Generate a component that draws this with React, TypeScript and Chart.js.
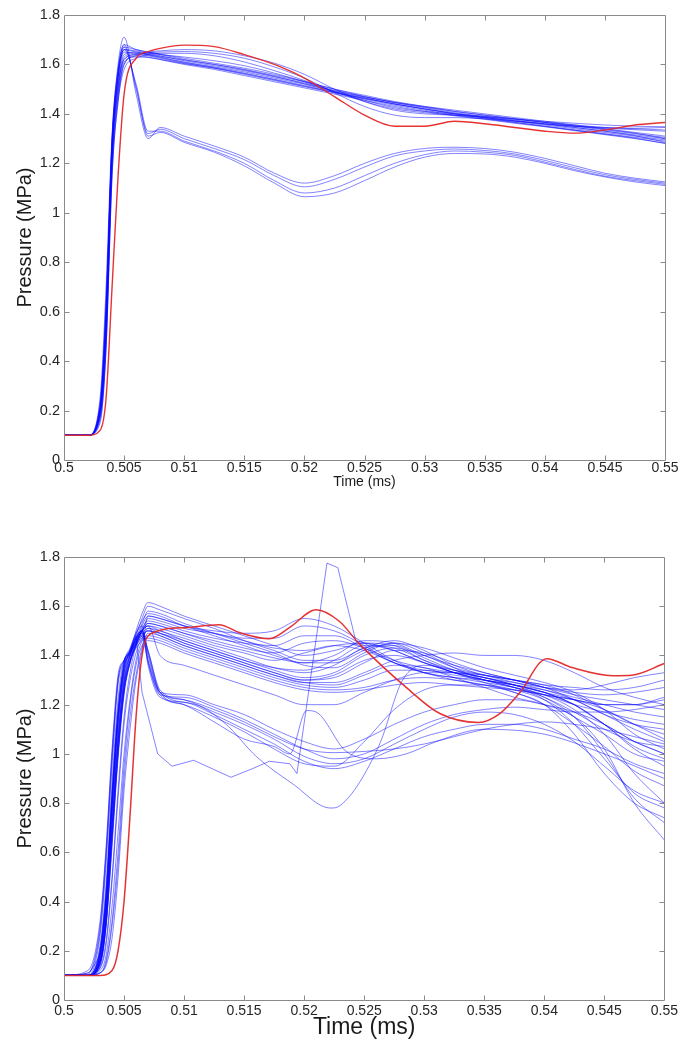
import React, { useEffect, useRef } from "react";
import { Chart, registerables } from "chart.js";
Chart.register(...registerables);

// ---------- axes ----------
const xTickValues = [0.5, 0.505, 0.51, 0.515, 0.52, 0.525, 0.53, 0.535, 0.54, 0.545, 0.55];
const xTickLabels = ["0.5", "0.505", "0.51", "0.515", "0.52", "0.525", "0.53", "0.535", "0.54", "0.545", "0.55"];
const yTickValues = [0, 0.2, 0.4, 0.6, 0.8, 1, 1.2, 1.4, 1.6, 1.8];
const yTickLabels = ["0", "0.2", "0.4", "0.6", "0.8", "1", "1.2", "1.4", "1.6", "1.8"];

// ---------- top chart ----------
const timeTop = [0.5, 0.502, 0.503, 0.5035, 0.504, 0.5045, 0.505, 0.506, 0.507, 0.508, 0.51, 0.5125, 0.515, 0.5175, 0.52, 0.5225, 0.525, 0.5275, 0.53, 0.5325, 0.535, 0.5375, 0.54, 0.5425, 0.545, 0.5475, 0.55];

const top01 = [0.1, 0.1, 0.2, 0.55, 1.25, 1.52, 1.64, 1.65, 1.64, 1.63, 1.61, 1.59, 1.57, 1.545, 1.52, 1.49, 1.465, 1.44, 1.42, 1.4, 1.385, 1.37, 1.355, 1.34, 1.325, 1.31, 1.295];
const top02 = [0.1, 0.1, 0.22, 0.6, 1.28, 1.55, 1.66, 1.655, 1.645, 1.635, 1.615, 1.595, 1.575, 1.55, 1.525, 1.495, 1.47, 1.445, 1.425, 1.405, 1.39, 1.375, 1.36, 1.345, 1.33, 1.315, 1.3];
const top03 = [0.1, 0.1, 0.18, 0.5, 1.22, 1.5, 1.62, 1.64, 1.635, 1.625, 1.605, 1.585, 1.56, 1.535, 1.51, 1.485, 1.46, 1.435, 1.415, 1.395, 1.38, 1.365, 1.35, 1.335, 1.32, 1.305, 1.29];
const top04 = [0.1, 0.1, 0.25, 0.7, 1.32, 1.58, 1.68, 1.66, 1.65, 1.64, 1.62, 1.6, 1.58, 1.555, 1.53, 1.5, 1.475, 1.45, 1.43, 1.41, 1.395, 1.38, 1.365, 1.35, 1.335, 1.32, 1.305];
const top05 = [0.1, 0.1, 0.2, 0.58, 1.26, 1.54, 1.65, 1.645, 1.638, 1.628, 1.608, 1.588, 1.565, 1.54, 1.515, 1.487, 1.462, 1.44, 1.42, 1.402, 1.386, 1.372, 1.358, 1.345, 1.33, 1.312, 1.285];
const top06 = [0.1, 0.1, 0.16, 0.45, 1.15, 1.45, 1.6, 1.635, 1.63, 1.62, 1.6, 1.58, 1.555, 1.53, 1.505, 1.48, 1.455, 1.43, 1.41, 1.392, 1.378, 1.362, 1.348, 1.332, 1.316, 1.3, 1.282];
const top07 = [0.1, 0.1, 0.21, 0.62, 1.29, 1.56, 1.67, 1.66, 1.65, 1.642, 1.625, 1.605, 1.585, 1.56, 1.532, 1.5, 1.47, 1.447, 1.43, 1.415, 1.4, 1.385, 1.37, 1.355, 1.34, 1.325, 1.31];
const top08 = [0.1, 0.1, 0.18, 0.5, 1.2, 1.48, 1.6, 1.635, 1.65, 1.655, 1.66, 1.655, 1.635, 1.605, 1.56, 1.5, 1.45, 1.415, 1.4, 1.395, 1.388, 1.378, 1.366, 1.355, 1.345, 1.34, 1.335];
const top09 = [0.1, 0.1, 0.2, 0.55, 1.24, 1.52, 1.62, 1.64, 1.648, 1.65, 1.652, 1.645, 1.625, 1.59, 1.545, 1.485, 1.43, 1.395, 1.385, 1.385, 1.38, 1.37, 1.36, 1.35, 1.342, 1.336, 1.33];
const top10 = [0.1, 0.1, 0.15, 0.45, 1.15, 1.45, 1.58, 1.625, 1.64, 1.645, 1.645, 1.635, 1.61, 1.575, 1.535, 1.49, 1.45, 1.42, 1.405, 1.395, 1.385, 1.372, 1.36, 1.35, 1.345, 1.342, 1.345];
const top11 = [0.1, 0.1, 0.19, 0.52, 1.22, 1.5, 1.63, 1.645, 1.645, 1.64, 1.63, 1.615, 1.595, 1.565, 1.53, 1.49, 1.455, 1.425, 1.41, 1.4, 1.39, 1.38, 1.37, 1.362, 1.355, 1.35, 1.348];
const top12 = [0.1, 0.1, 0.23, 0.65, 1.3, 1.56, 1.66, 1.65, 1.64, 1.633, 1.618, 1.6, 1.578, 1.552, 1.522, 1.493, 1.468, 1.446, 1.427, 1.41, 1.395, 1.38, 1.366, 1.352, 1.338, 1.322, 1.3];
const top13 = [0.1, 0.1, 0.17, 0.48, 1.18, 1.47, 1.61, 1.63, 1.628, 1.62, 1.603, 1.585, 1.563, 1.538, 1.512, 1.487, 1.463, 1.44, 1.42, 1.4, 1.383, 1.366, 1.35, 1.334, 1.318, 1.302, 1.28];
const topLow1 = [0.1, 0.1, 0.2, 0.6, 1.3, 1.6, 1.71, 1.48, 1.3, 1.345, 1.31, 1.27, 1.225, 1.16, 1.12, 1.15, 1.2, 1.24, 1.26, 1.265, 1.26, 1.245, 1.22, 1.19, 1.16, 1.14, 1.125];
const topLow2 = [0.1, 0.1, 0.22, 0.62, 1.28, 1.58, 1.68, 1.5, 1.32, 1.338, 1.3, 1.26, 1.215, 1.15, 1.105, 1.135, 1.185, 1.23, 1.25, 1.258, 1.252, 1.238, 1.212, 1.182, 1.154, 1.135, 1.12];
const topLow3 = [0.1, 0.1, 0.18, 0.55, 1.24, 1.55, 1.66, 1.52, 1.33, 1.33, 1.29, 1.25, 1.2, 1.13, 1.08, 1.1, 1.15, 1.2, 1.235, 1.25, 1.245, 1.232, 1.205, 1.175, 1.148, 1.13, 1.115];
const topLow4 = [0.1, 0.1, 0.2, 0.58, 1.26, 1.57, 1.67, 1.51, 1.31, 1.325, 1.285, 1.245, 1.19, 1.12, 1.065, 1.08, 1.13, 1.185, 1.225, 1.24, 1.238, 1.225, 1.2, 1.17, 1.145, 1.125, 1.11];
const topRed = [0.1, 0.1, 0.12, 0.25, 0.7, 1.15, 1.48, 1.625, 1.652, 1.665, 1.678, 1.672, 1.64, 1.6, 1.545, 1.47, 1.395, 1.35, 1.35, 1.37, 1.36, 1.345, 1.33, 1.322, 1.335, 1.355, 1.365];

const topBlue = [top01, top02, top03, top04, top05, top06, top07, top08, top09, top10, top11, top12, top13, topLow1, topLow2, topLow3, topLow4];

// ---------- bottom chart ----------
const timeBot = [0.5, 0.502, 0.503, 0.5035, 0.504, 0.5045, 0.505, 0.5055, 0.506, 0.5065, 0.507, 0.508, 0.51, 0.5125, 0.515, 0.5175, 0.52, 0.5225, 0.525, 0.5275, 0.53, 0.5325, 0.535, 0.5375, 0.54, 0.5425, 0.545, 0.5475, 0.55];

const botA01 = [0.1, 0.1, 0.2, 0.42, 0.82, 1.15, 1.34, 1.42, 1.5, 1.57, 1.615, 1.6, 1.56, 1.52, 1.48, 1.44, 1.4, 1.42, 1.45, 1.44, 1.38, 1.34, 1.31, 1.29, 1.27, 1.26, 1.28, 1.31, 1.33];
const botA02 = [0.1, 0.1, 0.17, 0.36, 0.74, 1.08, 1.3, 1.4, 1.48, 1.55, 1.6, 1.585, 1.55, 1.51, 1.46, 1.42, 1.38, 1.38, 1.43, 1.46, 1.42, 1.36, 1.32, 1.3, 1.28, 1.27, 1.26, 1.27, 1.3];
const botA03 = [0.1, 0.11, 0.3, 0.6, 1.0, 1.3, 1.38, 1.42, 1.47, 1.53, 1.58, 1.57, 1.53, 1.49, 1.45, 1.41, 1.36, 1.35, 1.41, 1.45, 1.41, 1.35, 1.3, 1.27, 1.24, 1.22, 1.2, 1.2, 1.22];
const botA04 = [0.1, 0.1, 0.11, 0.14, 0.25, 0.5, 0.85, 1.1, 1.3, 1.42, 1.56, 1.55, 1.52, 1.5, 1.49, 1.5, 1.55, 1.52, 1.45, 1.38, 1.33, 1.31, 1.29, 1.27, 1.24, 1.18, 1.08, 0.92, 0.8];
const botA05 = [0.1, 0.1, 0.13, 0.24, 0.5, 0.85, 1.15, 1.33, 1.44, 1.5, 1.55, 1.54, 1.51, 1.49, 1.47, 1.47, 1.52, 1.5, 1.44, 1.37, 1.33, 1.31, 1.3, 1.28, 1.25, 1.2, 1.12, 1.02, 0.95];
const botA06 = [0.1, 0.1, 0.18, 0.38, 0.78, 1.12, 1.32, 1.4, 1.46, 1.51, 1.54, 1.53, 1.5, 1.47, 1.45, 1.44, 1.48, 1.48, 1.43, 1.37, 1.34, 1.33, 1.32, 1.3, 1.27, 1.22, 1.16, 1.1, 1.05];
const botA07 = [0.1, 0.12, 0.32, 0.62, 1.02, 1.32, 1.38, 1.41, 1.45, 1.5, 1.53, 1.52, 1.49, 1.46, 1.43, 1.41, 1.45, 1.46, 1.43, 1.38, 1.35, 1.33, 1.31, 1.28, 1.23, 1.15, 1.0, 0.82, 0.72];
const botA08 = [0.1, 0.1, 0.15, 0.32, 0.68, 1.02, 1.26, 1.38, 1.45, 1.5, 1.52, 1.51, 1.48, 1.44, 1.41, 1.38, 1.41, 1.44, 1.45, 1.42, 1.37, 1.33, 1.3, 1.28, 1.26, 1.23, 1.2, 1.17, 1.15];
const botA09 = [0.1, 0.1, 0.19, 0.4, 0.8, 1.14, 1.35, 1.41, 1.46, 1.5, 1.52, 1.5, 1.47, 1.43, 1.39, 1.35, 1.33, 1.36, 1.43, 1.44, 1.39, 1.34, 1.31, 1.28, 1.25, 1.2, 1.12, 1.03, 0.98];
const botA10 = [0.1, 0.1, 0.12, 0.18, 0.38, 0.68, 1.0, 1.22, 1.38, 1.46, 1.51, 1.5, 1.46, 1.42, 1.38, 1.34, 1.31, 1.33, 1.4, 1.43, 1.4, 1.35, 1.32, 1.29, 1.26, 1.22, 1.16, 1.12, 1.1];
const botA11 = [0.1, 0.1, 0.16, 0.34, 0.7, 1.05, 1.28, 1.38, 1.44, 1.48, 1.5, 1.49, 1.45, 1.41, 1.37, 1.33, 1.3, 1.31, 1.37, 1.42, 1.41, 1.37, 1.33, 1.3, 1.27, 1.25, 1.24, 1.25, 1.27];
const botA12 = [0.1, 0.1, 0.11, 0.15, 0.3, 0.55, 0.9, 1.15, 1.32, 1.43, 1.49, 1.48, 1.44, 1.4, 1.36, 1.32, 1.29, 1.29, 1.33, 1.38, 1.4, 1.41, 1.4, 1.4, 1.38, 1.33, 1.27, 1.23, 1.2];
const botA13 = [0.1, 0.1, 0.26, 0.55, 0.95, 1.28, 1.37, 1.4, 1.44, 1.47, 1.48, 1.47, 1.43, 1.39, 1.35, 1.31, 1.28, 1.27, 1.3, 1.34, 1.34, 1.32, 1.3, 1.27, 1.22, 1.12, 0.98, 0.84, 0.78];
const botA14 = [0.1, 0.1, 0.14, 0.3, 0.64, 0.98, 1.24, 1.37, 1.44, 1.48, 1.5, 1.48, 1.44, 1.4, 1.36, 1.32, 1.29, 1.28, 1.32, 1.36, 1.35, 1.31, 1.27, 1.23, 1.2, 1.15, 1.02, 0.8, 0.65];
const botA15 = [0.1, 0.1, 0.17, 0.35, 0.72, 1.06, 1.29, 1.38, 1.43, 1.46, 1.47, 1.46, 1.42, 1.38, 1.34, 1.3, 1.27, 1.26, 1.27, 1.3, 1.31, 1.3, 1.28, 1.25, 1.2, 1.12, 1.03, 0.93, 0.87];
const botA16 = [0.1, 0.1, 0.11, 0.16, 0.32, 0.6, 0.95, 1.2, 1.36, 1.44, 1.46, 1.45, 1.41, 1.37, 1.33, 1.29, 1.26, 1.25, 1.26, 1.28, 1.29, 1.28, 1.27, 1.26, 1.24, 1.2, 1.17, 1.14, 1.12];
const botA17 = [0.1, 0.1, 0.16, 0.33, 0.7, 1.04, 1.27, 1.37, 1.44, 1.5, 1.53, 1.52, 1.49, 1.45, 1.42, 1.39, 1.37, 1.4, 1.46, 1.45, 1.4, 1.36, 1.33, 1.3, 1.27, 1.24, 1.22, 1.2, 1.18];
const botA18 = [0.1, 0.1, 0.21, 0.44, 0.84, 1.18, 1.36, 1.42, 1.49, 1.54, 1.57, 1.56, 1.52, 1.48, 1.44, 1.4, 1.37, 1.37, 1.42, 1.45, 1.43, 1.39, 1.35, 1.32, 1.29, 1.25, 1.18, 1.08, 1.02];
const botA19 = [0.1, 0.1, 0.13, 0.22, 0.48, 0.82, 1.12, 1.3, 1.41, 1.47, 1.5, 1.49, 1.46, 1.42, 1.38, 1.35, 1.34, 1.38, 1.44, 1.43, 1.38, 1.33, 1.3, 1.27, 1.23, 1.17, 1.1, 1.05, 1.03];
const botA20 = [0.1, 0.1, 0.18, 0.39, 0.79, 1.13, 1.33, 1.4, 1.46, 1.5, 1.52, 1.4, 1.36, 1.32, 1.28, 1.24, 1.2, 1.2, 1.25, 1.3, 1.33, 1.33, 1.31, 1.28, 1.25, 1.22, 1.18, 1.12, 1.06];
const botA21 = [0.1, 0.1, 0.15, 0.31, 0.66, 1.0, 1.25, 1.37, 1.45, 1.52, 1.56, 1.55, 1.52, 1.49, 1.46, 1.43, 1.42, 1.44, 1.42, 1.37, 1.33, 1.3, 1.28, 1.26, 1.24, 1.22, 1.2, 1.2, 1.23];
const botA22 = [0.1, 0.1, 0.2, 0.43, 0.83, 1.17, 1.35, 1.41, 1.45, 1.49, 1.51, 1.49, 1.45, 1.41, 1.37, 1.33, 1.3, 1.32, 1.38, 1.4, 1.37, 1.33, 1.29, 1.25, 1.2, 1.08, 0.92, 0.8, 0.74];
const botB01 = [0.1, 0.11, 0.28, 0.58, 0.98, 1.3, 1.38, 1.42, 1.48, 1.5, 1.4, 1.25, 1.24, 1.2, 1.16, 1.1, 1.05, 1.02, 1.06, 1.12, 1.17, 1.2, 1.22, 1.22, 1.2, 1.17, 1.12, 1.05, 1.0];
const botB02 = [0.1, 0.1, 0.18, 0.4, 0.8, 1.16, 1.37, 1.43, 1.49, 1.52, 1.38, 1.24, 1.23, 1.19, 1.14, 1.08, 1.02, 0.98, 1.0, 1.06, 1.12, 1.16, 1.18, 1.19, 1.18, 1.17, 1.17, 1.18, 1.2];
const botB03 = [0.1, 0.1, 0.22, 0.47, 0.88, 1.22, 1.38, 1.41, 1.46, 1.49, 1.42, 1.26, 1.22, 1.17, 1.12, 1.06, 0.99, 0.96, 0.98, 1.04, 1.1, 1.15, 1.17, 1.16, 1.12, 1.05, 0.95, 0.85, 0.8];
const botB04 = [0.1, 0.1, 0.15, 0.33, 0.7, 1.05, 1.3, 1.4, 1.47, 1.5, 1.36, 1.23, 1.21, 1.16, 1.1, 1.04, 0.97, 0.94, 0.97, 1.02, 1.07, 1.1, 1.12, 1.12, 1.1, 1.06, 1.02, 0.96, 0.92];
const botB05 = [0.1, 0.1, 0.19, 0.41, 0.82, 1.18, 1.37, 1.42, 1.47, 1.5, 1.41, 1.25, 1.22, 1.18, 1.13, 1.07, 1.02, 1.005, 1.01, 1.02, 1.04, 1.07, 1.1, 1.12, 1.13, 1.12, 1.1, 1.07, 1.04];
const botB06 = [0.1, 0.1, 0.16, 0.36, 0.75, 1.1, 1.33, 1.41, 1.47, 1.49, 1.37, 1.24, 1.2, 1.15, 1.09, 1.02, 0.96, 0.95, 1.05, 1.18, 1.26, 1.28, 1.28, 1.26, 1.22, 1.15, 1.08, 1.0, 0.97];

const botBlue = [botA01, botA02, botA03, botA04, botA05, botA06, botA07, botA08, botA09, botA10, botA11, botA12, botA13, botA14, botA15, botA16, botA17, botA18, botA19, botA20, botA21, botA22, botB01, botB02, botB03, botB04, botB05, botB06];

// special traces with their own sample times
const spikeTime = [0.5, 0.502, 0.503, 0.5035, 0.504, 0.5045, 0.505, 0.5055, 0.506, 0.5065, 0.5078, 0.509, 0.5108, 0.5139, 0.5157, 0.5171, 0.5188, 0.5194, 0.5219, 0.5228, 0.5243, 0.5275, 0.53, 0.5325, 0.535, 0.5375, 0.54, 0.5425, 0.545, 0.5475, 0.55];
const spikeVals = [0.1, 0.1, 0.18, 0.4, 0.8, 1.15, 1.36, 1.42, 1.48, 1.25, 1.0, 0.95, 0.974, 0.905, 0.94, 0.97, 0.96, 0.92, 1.775, 1.757, 1.46, 1.42, 1.37, 1.33, 1.3, 1.28, 1.25, 1.2, 1.12, 1.05, 1.0];
const dipTime = [0.5, 0.502, 0.503, 0.5035, 0.504, 0.5045, 0.505, 0.5055, 0.506, 0.5065, 0.507, 0.508, 0.511, 0.5135, 0.516, 0.519, 0.5222, 0.523, 0.5262, 0.5282, 0.53, 0.5325, 0.535, 0.5375, 0.54, 0.5425, 0.545, 0.5475, 0.55];
const dipVals = [0.1, 0.1, 0.15, 0.3, 0.65, 1.0, 1.25, 1.38, 1.45, 1.48, 1.38, 1.25, 1.2, 1.12, 0.99, 0.88, 0.78, 0.79, 1.03, 1.3, 1.36, 1.34, 1.32, 1.3, 1.28, 1.24, 1.18, 1.12, 1.08];
const humpTime = [0.5, 0.502, 0.503, 0.5035, 0.504, 0.5045, 0.505, 0.5055, 0.506, 0.5065, 0.507, 0.508, 0.51, 0.5125, 0.515, 0.5175, 0.5188, 0.5202, 0.521, 0.5235, 0.526, 0.5285, 0.531, 0.535, 0.54, 0.545, 0.55];
const humpVals = [0.1, 0.1, 0.14, 0.3, 0.62, 1.0, 1.27, 1.4, 1.47, 1.5, 1.42, 1.25, 1.2, 1.13, 1.06, 1.03, 1.0, 1.176, 1.17, 1.01, 0.98, 1.0, 1.05, 1.1, 1.08, 1.0, 0.9];
const redBotTime = [0.5, 0.502, 0.503, 0.504, 0.5045, 0.505, 0.5055, 0.506, 0.5065, 0.5073, 0.5101, 0.5129, 0.5146, 0.5171, 0.5188, 0.521, 0.5229, 0.5246, 0.5285, 0.5313, 0.5345, 0.5363, 0.5379, 0.5402, 0.5423, 0.5457, 0.5473, 0.55];
const redBotVals = [0.1, 0.1, 0.1, 0.12, 0.2, 0.4, 0.75, 1.15, 1.4, 1.49, 1.513, 1.525, 1.493, 1.468, 1.514, 1.586, 1.54, 1.447, 1.27, 1.164, 1.128, 1.164, 1.245, 1.387, 1.351, 1.318, 1.32, 1.367];

// ---------- helpers ----------
const BLUE = "rgba(10,10,255,0.5)";
const RED = "rgba(228,40,40,0.95)";
const FONT = "'Liberation Sans', Arial, sans-serif";

const pts = (t: number[], v: number[]) => t.map((x, i) => ({ x, y: v[i] }));

const framePlugin = {
  id: "matlabFrame",
  afterDatasetsDraw(chart: any) {
    const { ctx, chartArea: a, scales } = chart;
    const L = Math.round(a.left) + 0.5, R = Math.round(a.right) + 0.5;
    const T = Math.round(a.top) + 0.5, B = Math.round(a.bottom) + 0.5;
    ctx.save();
    ctx.strokeStyle = "#8a8a8a";
    ctx.lineWidth = 1;
    ctx.beginPath();
    ctx.rect(L, T, R - L, B - T);
    const len = 5;
    for (const v of xTickValues) {
      const x = Math.round(scales.x.getPixelForValue(v)) + 0.5;
      if (x <= L + 1 || x >= R - 1) continue;
      ctx.moveTo(x, B); ctx.lineTo(x, B - len);
      ctx.moveTo(x, T); ctx.lineTo(x, T + len);
    }
    for (const v of yTickValues) {
      const y = Math.round(scales.y.getPixelForValue(v)) + 0.5;
      if (y <= T + 1 || y >= B - 1) continue;
      ctx.moveTo(L, y); ctx.lineTo(L + len, y);
      ctx.moveTo(R, y); ctx.lineTo(R - len, y);
    }
    ctx.stroke();
    ctx.restore();
  },
};

function buildOptions(p: { padTop: number; xAxisH: number; xTickPad: number; xTitleSize: number; xTitlePad: number }) {
  return {
    animation: false,
    responsive: false,
    maintainAspectRatio: false,
    layout: { padding: { left: 0, right: 16, top: p.padTop, bottom: 0 } },
    plugins: { legend: { display: false }, tooltip: { enabled: false } },
    elements: { point: { radius: 0 } },
    scales: {
      x: {
        type: "linear",
        min: 0.5,
        max: 0.55,
        grid: { display: false, drawTicks: false },
        border: { display: false },
        afterBuildTicks: (s: any) => {
          s.ticks = xTickValues.map((value) => ({ value }));
        },
        afterFit: (s: any) => {
          s.height = p.xAxisH;
        },
        ticks: {
          autoSkip: false,
          maxRotation: 0,
          padding: p.xTickPad,
          color: "#262626",
          font: { family: FONT, size: 14 },
          callback: (_v: any, i: number) => xTickLabels[i],
        },
        title: {
          display: true,
          text: "Time (ms)",
          color: "#1a1a1a",
          font: { family: FONT, size: p.xTitleSize },
          padding: { top: 0, bottom: p.xTitlePad },
        },
      },
      y: {
        type: "linear",
        min: 0,
        max: 1.8,
        grid: { display: false, drawTicks: false },
        border: { display: false },
        afterBuildTicks: (s: any) => {
          s.ticks = yTickValues.map((value) => ({ value }));
        },
        afterFit: (s: any) => {
          s.width = 64;
        },
        ticks: {
          padding: 4,
          color: "#262626",
          font: { family: FONT, size: 14.5 },
          callback: (_v: any, i: number) => yTickLabels[i],
        },
        title: {
          display: true,
          text: "Pressure (MPa)",
          color: "#1a1a1a",
          font: { family: FONT, size: 20 },
          padding: { top: 13, bottom: 0 },
        },
      },
    },
  };
}

function lineDs(data: any[], color: string, width: number, smooth: boolean) {
  return {
    data,
    borderColor: color,
    borderWidth: width,
    pointRadius: 0,
    fill: false,
    tension: 0,
    cubicInterpolationMode: smooth ? "monotone" : "default",
  };
}

export default function App() {
  const topRef = useRef<HTMLCanvasElement>(null);
  const botRef = useRef<HTMLCanvasElement>(null);

  useEffect(() => {
    const topDatasets = [
      lineDs(pts(timeTop, topRed), RED, 1.4, true),
      ...topBlue.map((v) => lineDs(pts(timeTop, v), BLUE, 1, true)),
    ];
    const botDatasets = [
      lineDs(pts(redBotTime, redBotVals), RED, 1.5, true),
      ...botBlue.map((v) => lineDs(pts(timeBot, v), BLUE, 1, true)),
      lineDs(pts(spikeTime, spikeVals), BLUE, 1, false),
      lineDs(pts(dipTime, dipVals), BLUE, 1, true),
      lineDs(pts(humpTime, humpVals), BLUE, 1, true),
    ];
    const c1 = new Chart(topRef.current as HTMLCanvasElement, {
      type: "line",
      data: { datasets: topDatasets as any },
      options: buildOptions({ padTop: 15, xAxisH: 35, xTickPad: 0, xTitleSize: 14, xTitlePad: 4 }) as any,
      plugins: [framePlugin],
    });
    const c2 = new Chart(botRef.current as HTMLCanvasElement, {
      type: "line",
      data: { datasets: botDatasets as any },
      options: buildOptions({ padTop: 17, xAxisH: 43, xTickPad: 3, xTitleSize: 23, xTitlePad: 2 }) as any,
      plugins: [framePlugin],
    });
    return () => {
      c1.destroy();
      c2.destroy();
    };
  }, []);

  return (
    <div style={{ position: "absolute", left: 0, top: 0, width: 681, height: 1043, background: "#fff" }}>
      <canvas ref={topRef} width={681} height={495} style={{ position: "absolute", left: 0, top: 0 }} />
      <canvas ref={botRef} width={681} height={503} style={{ position: "absolute", left: 0, top: 540 }} />
    </div>
  );
}
